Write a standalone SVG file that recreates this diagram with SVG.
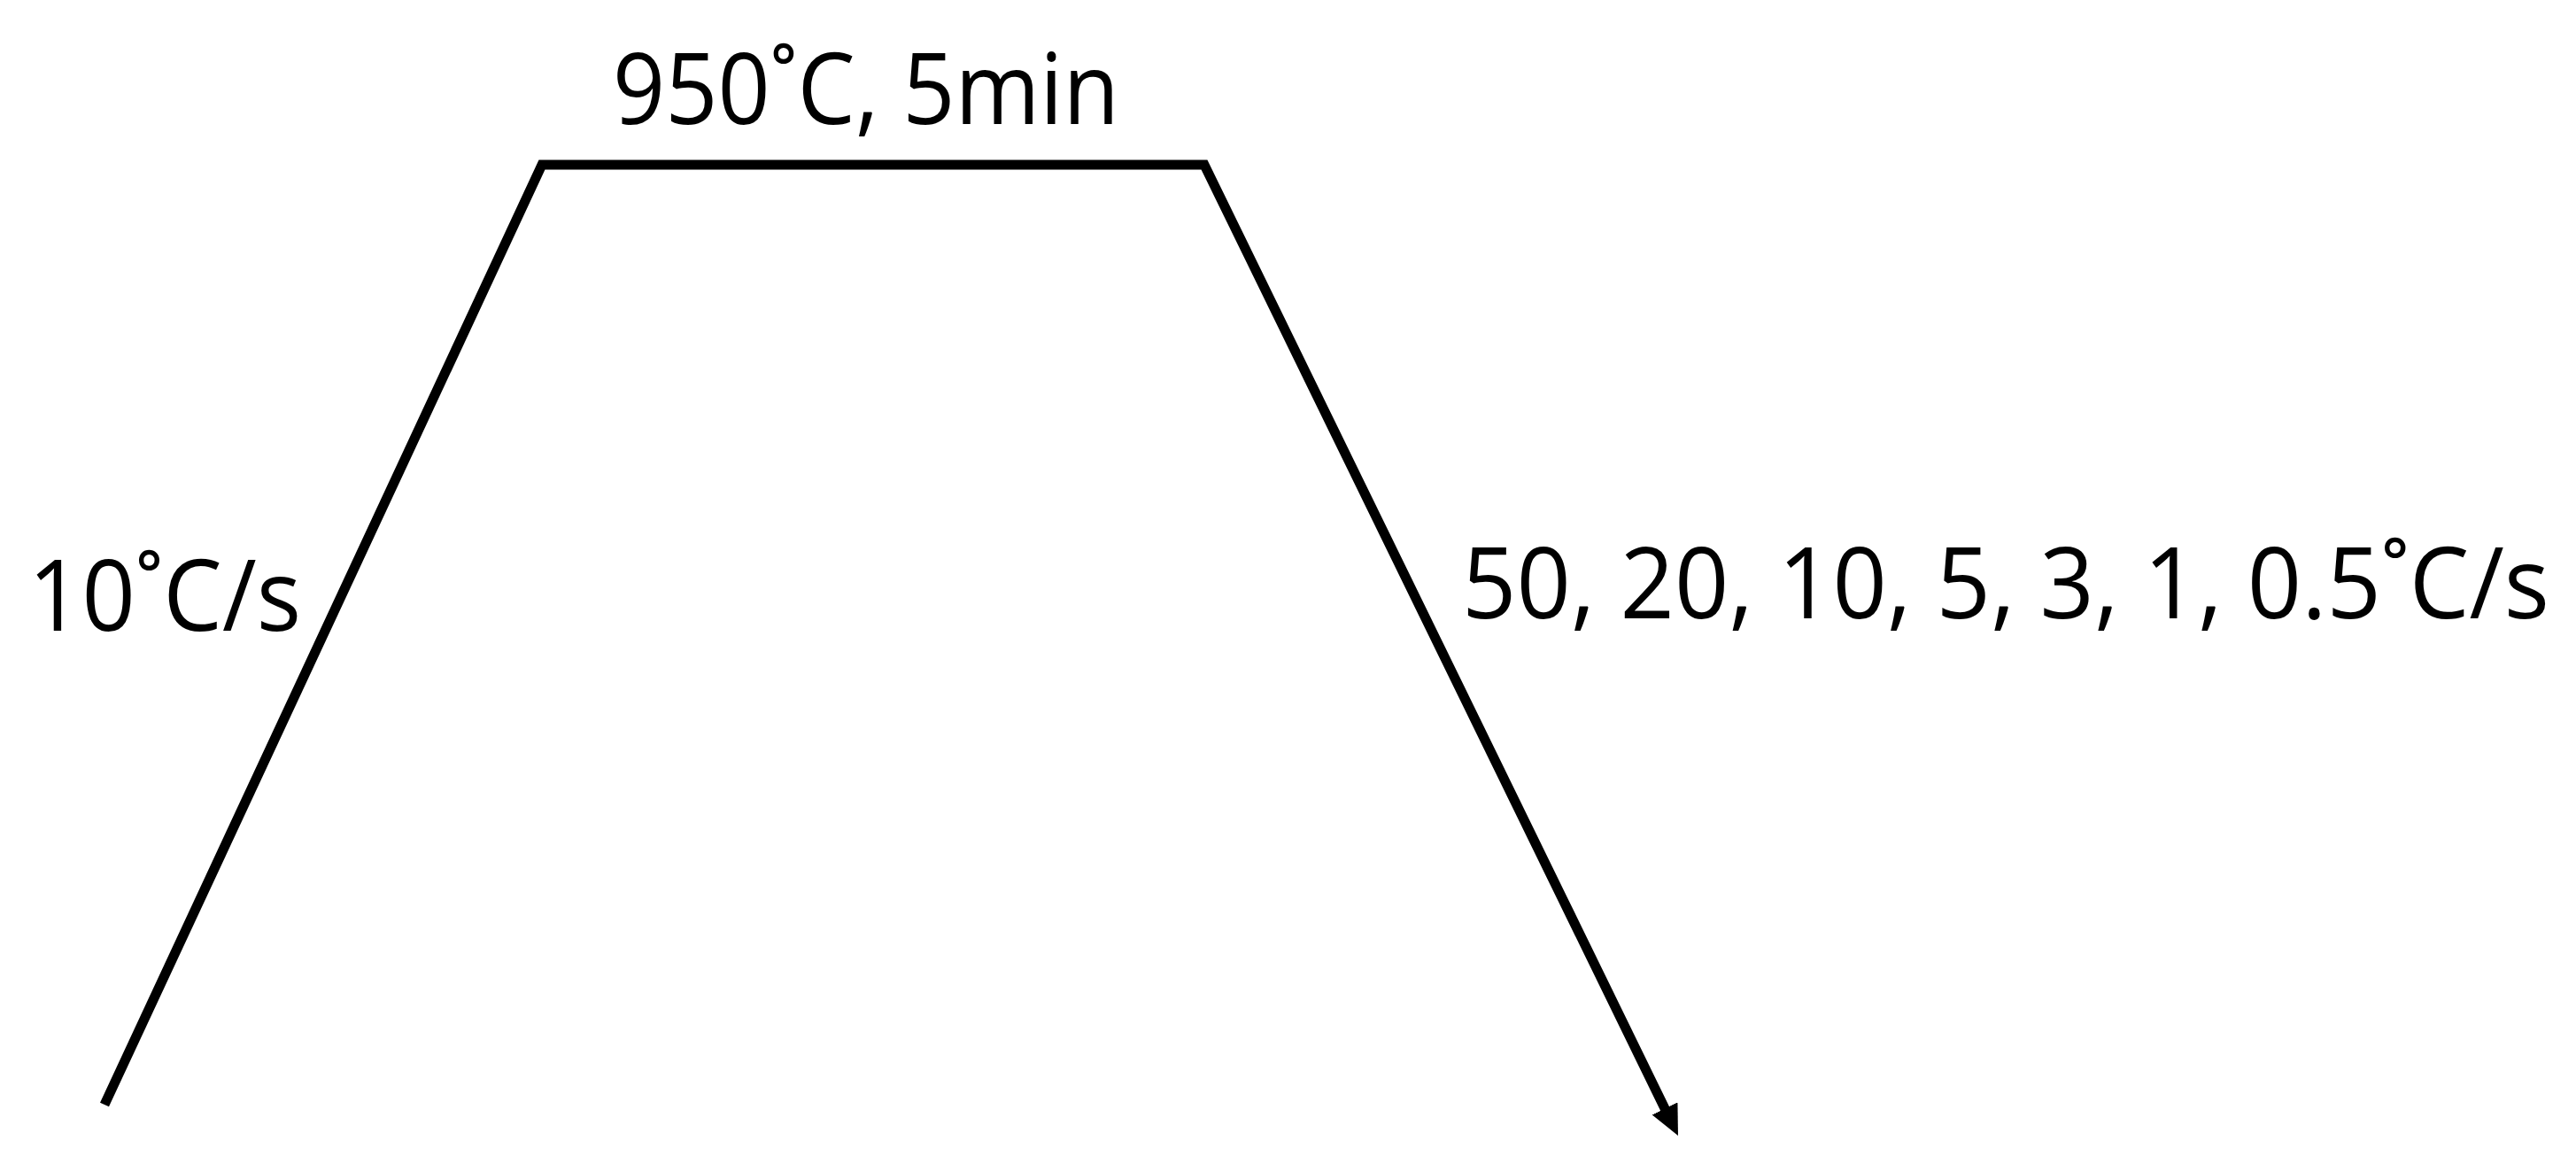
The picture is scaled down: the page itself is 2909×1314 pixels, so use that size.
<svg xmlns="http://www.w3.org/2000/svg" width="2909" height="1314" viewBox="0 0 2909 1314">
  <style>
    .lbl { font-family: "Open Sans", "Noto Sans", "Liberation Sans", sans-serif; font-size: 112px; fill: #000; }
    .ln { fill: none; stroke: #000; stroke-width: 11; stroke-linejoin: miter; stroke-linecap: butt; }
  </style>
  <defs>
    <marker id="arrow" viewBox="0 -16 34 32" markerUnits="userSpaceOnUse" markerWidth="34" markerHeight="32" refX="6" refY="0" orient="auto">
      <path d="M0,-16 L34,0 L0,16 z" fill="#000"/>
    </marker>
  </defs>
  <rect width="2909" height="1314" fill="#fff"/>
  <g id="connectors">
    <path class="ln" d="M118,1247 L612,186 L1360,186 L1882.7,1256.8" marker-end="url(#arrow)"/>
  </g>
  <g id="hold-label">
    <text class="lbl" x="692" y="140" textLength="572" lengthAdjust="spacingAndGlyphs">950˚C, 5min</text>
  </g>
  <g id="heating-label">
    <text class="lbl" x="32" y="712" textLength="308" lengthAdjust="spacingAndGlyphs">10˚C/s</text>
  </g>
  <g id="cooling-label">
    <text class="lbl" x="1651" y="698" textLength="1228" lengthAdjust="spacingAndGlyphs">50, 20, 10, 5, 3, 1, 0.5˚C/s</text>
  </g>
</svg>
